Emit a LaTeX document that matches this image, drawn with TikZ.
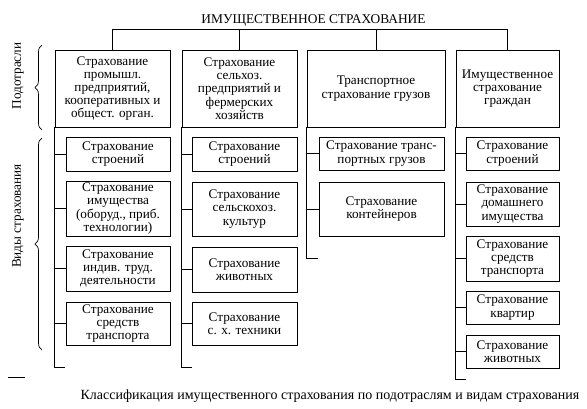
\documentclass[tikz,border=0pt]{standalone}
\usepackage{fontspec}
\setmainfont{Liberation Serif}
\usetikzlibrary{calc,decorations.pathreplacing}
\tikzset{
	branch/.style={draw, line width=0.8pt, align=center, inner sep=1pt,
			font=\fontsize{13.2}{13.2}\selectfont},
	kind/.style={branch, minimum width=#1},
	sidelabel/.style={rotate=90, font=\fontsize{13.2}{13.2}\selectfont},
	link/.style={line width=0.8pt},
	bracket/.style={line width=0.7pt, decorate, decoration={brace, amplitude=7pt}}
}

\begin{document}
\begin{tikzpicture}[x=1pt, y=-1pt]
	\useasboundingbox (0,0) rectangle (587,408);

	% Title and top bar
	\node[font=\fontsize{13.4}{14}\selectfont] (title) at (313.5,20) {ИМУЩЕСТВЕННОЕ СТРАХОВАНИЕ};
	\coordinate (bar) at (0,29);

	% Subsectors
	\node[branch, minimum width=115pt, minimum height=77pt] (p1) at (112.5,88.5)
	{Страхование\\промышл.\\предприятий,\\кооперативных и\\общест. орган.};
	\node[branch, minimum width=115pt, minimum height=77pt] (p2) at (239.5,88.5)
	{Страхование\\сельхоз.\\предприятий и\\фермерских\\хозяйств};
	\node[branch, minimum width=138pt, minimum height=77pt] (p3) at (376,88.5)
	{Транспортное\\страхование грузов};
	\node[branch, minimum width=103pt, minimum height=77pt] (p4) at (507.5,88.5)
	{Имущественное\\страхование\\граждан};

	\draw[link] (p1.north) -- (p1.north |- bar) -- (p4.north |- bar) -- (p4.north);
	\draw[link] (p2.north) -- (p2.north |- bar);
	\draw[link] (p3.north) -- (p3.north |- bar);

	% Kinds of insurance, first column
	\node[kind=104pt, minimum height=34pt] (k1a) at (118,154) {Страхование\\строений};
	\node[kind=104pt, minimum height=55pt] (k1b) at (118,208.5) {Страхование\\имущества\\(оборуд., приб.\\технологии)};
	\node[kind=104pt, minimum height=45pt] (k1c) at (118,268.5) {Страхование\\индив. труд.\\деятельности};
	\node[kind=104pt, minimum height=43pt] (k1d) at (118,323.5) {Страхование\\средств\\транспорта};

	% second column
	\node[kind=105pt, minimum height=34pt] (k2a) at (244.5,154) {Страхование\\строений};
	\node[kind=105pt, minimum height=54pt] (k2b) at (244.5,209) {Страхование\\сельскохоз.\\культур};
	\node[kind=105pt, minimum height=45pt] (k2c) at (244.5,269.5) {Страхование\\животных};
	\node[kind=105pt, minimum height=43pt] (k2d) at (244.5,323.5) {Страхование\\с. х. техники};

	% third column
	\node[kind=125pt, minimum height=33pt] (k3a) at (381.5,153.5) {Страхование транс-\\портных грузов};
	\node[kind=125pt, minimum height=54pt] (k3b) at (381.5,209) {Страхование\\контейнеров};

	% fourth column
	\node[kind=93pt, minimum height=33pt] (k4a) at (512.5,153.5) {Страхование\\строений};
	\node[kind=93pt, minimum height=44pt] (k4b) at (512.5,204) {Страхование\\домашнего\\имущества};
	\node[kind=93pt, minimum height=45pt] (k4c) at (512.5,258.5) {Страхование\\средств\\транспорта};
	\node[kind=93pt, minimum height=33pt] (k4d) at (512.5,307.5) {Страхование\\квартир};
	\node[kind=93pt, minimum height=33pt] (k4e) at (512.5,351.5) {Страхование\\животных};

	% Trunks with their ends
	\coordinate (e1) at (p1.south west |- {(0,367)});
	\coordinate (e2) at (p2.south west |- {(0,367)});
	\coordinate (e3) at (p3.south west |- {(0,258)});
	\coordinate (e4) at (p4.south west |- {(0,379)});
	\draw[link] (p1.south west) -- (e1) -- ++(10,0);
	\draw[link] (p2.south west) -- (e2) -- ++(10,0);
	\draw[link] (p3.south west) -- (e3) -- ++(11,0);
	\draw[link] (p4.south west) -- (e4) -- ++(10,0);

	\foreach \k in {a,b,c,d}
	\draw[link] (k1\k.west) -- (k1\k.west -| e1);
	\foreach \k in {a,b,c,d}
	\draw[link] (k2\k.west) -- (k2\k.west -| e2);
	\foreach \k in {a,b}
	\draw[link] (k3\k.west) -- (k3\k.west -| e3);
	\foreach \k in {a,b,c,d,e}
	\draw[link] (k4\k.west) -- (k4\k.west -| e4);

	% Left side: braces and labels
	\coordinate (b1) at (42,130);
	\coordinate (t1) at (42,45);
	\coordinate (b2) at (42,350);
	\coordinate (t2) at (42,138);
	\draw[bracket] (b1) -- (t1);
	\draw[bracket] (b2) -- (t2);
	\node[sidelabel] (sub) at (18,76) {Подотрасли};
	\node[sidelabel] (kinds) at (18,216) {Виды страхования};

	% Caption
	\draw[line width=0.7pt] (8,377) -- (25,377);
	\node[font=\fontsize{14}{16}\selectfont] (caption) at (330,396)
	{Классификация имущественного страхования по подотраслям и видам страхования};
\end{tikzpicture}
\end{document}
